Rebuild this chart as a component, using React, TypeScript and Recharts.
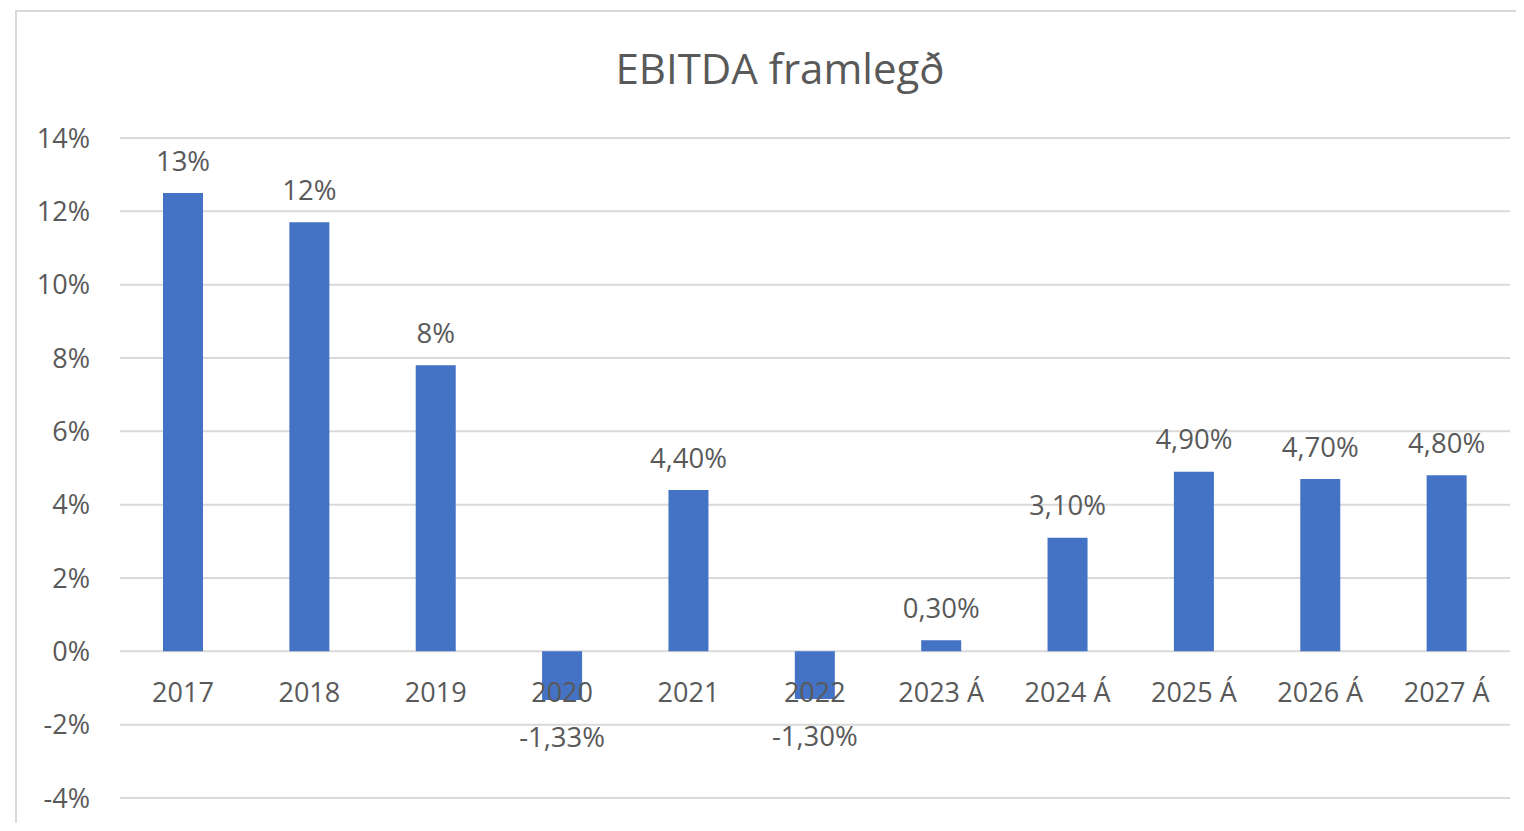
import React from 'react';
import { BarChart, Bar, XAxis, YAxis, CartesianGrid, LabelList } from 'recharts';

const years = ['2017', '2018', '2019', '2020', '2021', '2022', '2023 Á', '2024 Á', '2025 Á', '2026 Á', '2027 Á'];
const margins = [12.5, 11.7, 7.8, -1.33, 4.4, -1.3, 0.3, 3.1, 4.9, 4.7, 4.8];
const marginLabels = ['13%', '12%', '8%', '-1,33%', '4,40%', '-1,30%', '0,30%', '3,10%', '4,90%', '4,70%', '4,80%'];
const yTicks = [-4, -2, 0, 2, 4, 6, 8, 10, 12, 14];

const chartData = years.map((year, i) => ({
    year,
    margin: margins[i],
    label: marginLabels[i]
}));

const FONT = '"Open Sans", "Noto Sans", sans-serif';
const TEXT = '#595959';

// value label: above positive bars, below negative ones
const ValueLabel = (props: any) => {
    const { x, y, width, height, index } = props;
    const v = margins[index];
    const top = Math.min(y, y + height);
    const bottom = Math.max(y, y + height);
    const ty = v >= 0 ? top - 33 : bottom + 36;
    return (
        <text x={x + width / 2} y={ty} textAnchor="middle" dominantBaseline="central"
            fill={TEXT} fontSize={27.5} fontFamily={FONT}>
            {marginLabels[index]}
        </text>
    );
};

// category names sit on the zero line, like Excel does
const CategoryLabel = (props: any) => {
    const { x, y, width, height, index } = props;
    const v = margins[index];
    const zero = v >= 0 ? Math.max(y, y + height) : Math.min(y, y + height);
    return (
        <text x={x + width / 2} y={zero + 40} textAnchor="middle" dominantBaseline="central"
            fill={TEXT} fontSize={27} fontFamily={FONT}>
            {years[index]}
        </text>
    );
};

export default function App() {
    return (
        <div style={{ margin: -8, position: 'relative', width: 1524, height: 831, overflow: 'hidden', background: '#fff' }}>
            <div style={{
                position: 'absolute', left: 15, top: 10, width: 1600, height: 900,
                border: '2px solid #d9d9d9', boxSizing: 'border-box'
            }} />
            <div style={{
                position: 'absolute', left: 0, width: 1560, top: 41, textAlign: 'center',
                fontFamily: FONT, fontSize: 42, color: TEXT, lineHeight: '54px'
            }}>
                EBITDA framlegð
            </div>
            <div style={{ position: 'absolute', left: 0, top: 0 }}>
                <BarChart width={1524} height={831} data={chartData}
                    margin={{ top: 138, right: 14, left: 20, bottom: 33 }}>
                    <CartesianGrid vertical={false} stroke="#d9d9d9" strokeWidth={2} />
                    <XAxis dataKey="year" hide />
                    <YAxis
                        width={100}
                        domain={[-4, 14]}
                        ticks={yTicks}
                        interval={0}
                        axisLine={false}
                        tickLine={false}
                        tickSize={0}
                        tickMargin={30}
                        tickFormatter={(v: number) => `${v}%`}
                        tick={{ fill: TEXT, fontSize: 27, fontFamily: FONT }}
                    />
                    <Bar dataKey="margin" fill="#4472C4" barSize={40} isAnimationActive={false}>
                        <LabelList dataKey="label" content={ValueLabel} />
                        <LabelList dataKey="year" content={CategoryLabel} />
                    </Bar>
                </BarChart>
            </div>
        </div>
    );
}
